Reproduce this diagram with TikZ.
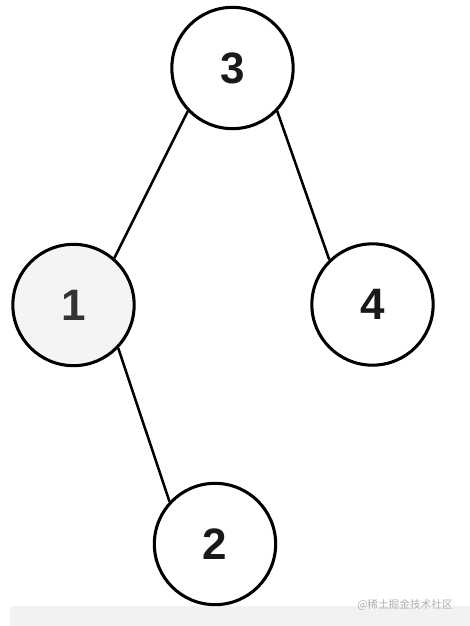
\documentclass[tikz,border=0pt]{standalone}
\usepackage{fontspec}
\setmainfont{Liberation Sans}
\newfontfamily\cjkfont{Noto Sans CJK SC}
\definecolor{nodegray}{HTML}{F4F4F4}
\definecolor{bandgray}{HTML}{F2F2F4}
\definecolor{markgray}{HTML}{AEAEAE}
\tikzset{
  treenode/.style={circle, draw, line width=2.3pt, minimum size=91pt, inner sep=0pt,
    font=\fontsize{33}{33}\selectfont\bfseries, text=black!90},
  treeedge/.style={line width=1.9pt}
}

\begin{document}
\begin{tikzpicture}[x=0.75pt,y=0.75pt,yscale=-1,xscale=1]
\useasboundingbox (0,0) rectangle (470,626);

%Shape: Rectangle [id:band] 
\fill[bandgray, rounded corners=3pt] (10,606) rectangle (480,640) ;

%Shape: Circle [id:n3] 
\node [treenode] (n3) at (232.5,68) {3};
%Shape: Circle [id:n1] 
\node [treenode, fill=nodegray, text=black!80] (n1) at (73.5,305) {1};
%Shape: Circle [id:n4] 
\node [treenode] (n4) at (372.5,304.5) {4};
%Shape: Circle [id:n2] 
\node [treenode] (n2) at (215,544) {2};

%Straight Lines [id:e31] 
\draw [treeedge]  (n3.224) -- (n1.49) ;
%Straight Lines [id:e34] 
\draw [treeedge]  (n3.316) -- (n4.134) ;
%Straight Lines [id:e12] 
\draw [treeedge]  (n1.316) -- (n2.137) ;

% Text Node
\node [anchor=east, inner sep=0pt, text=markgray, font=\cjkfont\fontsize{8}{8}\selectfont] (mark) at (453,605) {@稀土掘金技术社区};

\end{tikzpicture}
\end{document}
